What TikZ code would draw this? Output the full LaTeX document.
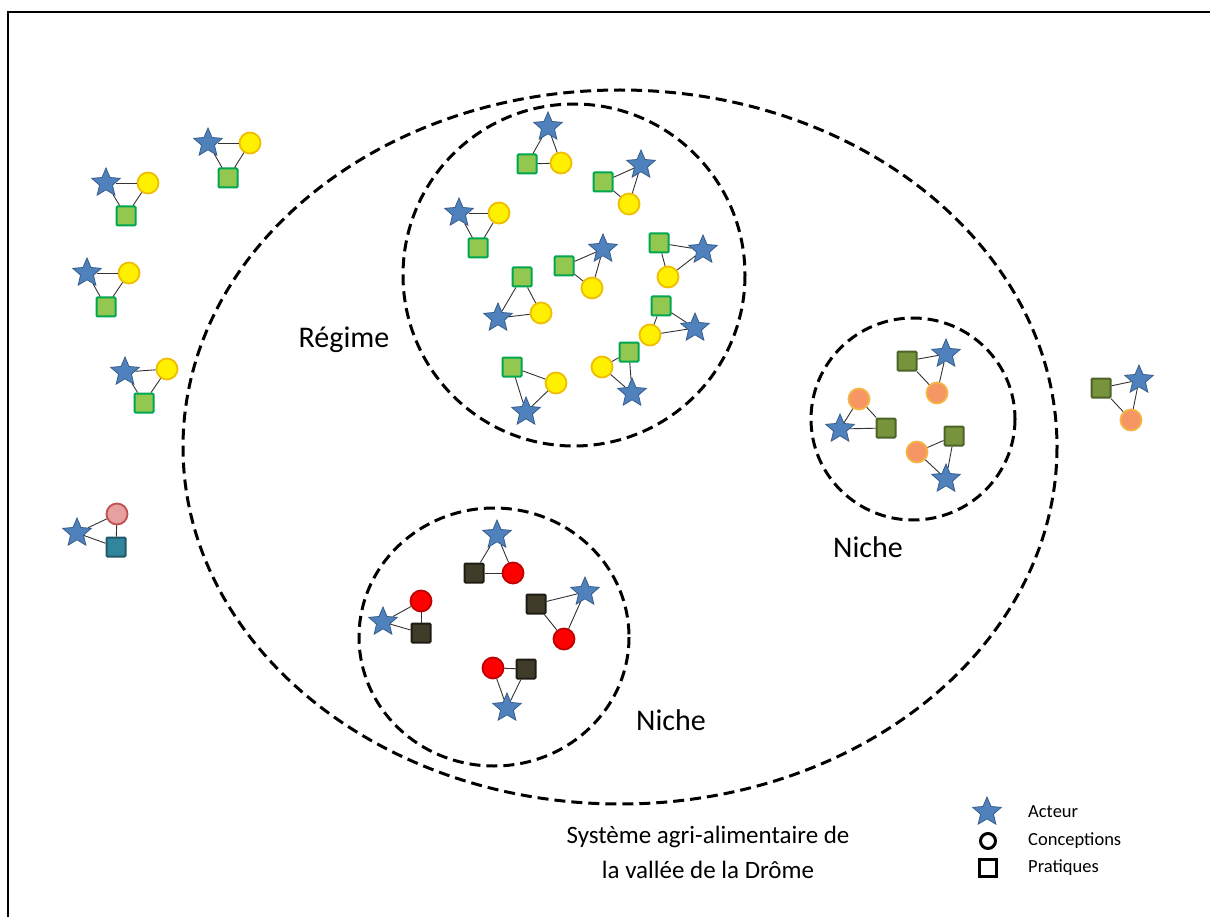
\documentclass[tikz,border=0pt]{standalone}
\usepackage{fontspec}
\setmainfont{Carlito}
\usetikzlibrary{shapes.geometric}
\definecolor{starfill}{RGB}{79,129,189}
\definecolor{stardraw}{RGB}{56,93,138}
\definecolor{yelfill}{RGB}{255,240,0}
\definecolor{yeldraw}{RGB}{240,190,0}
\definecolor{grnfill}{RGB}{146,200,80}
\definecolor{grndraw}{RGB}{0,166,80}
\definecolor{redfill}{RGB}{255,0,0}
\definecolor{reddraw}{RGB}{192,0,0}
\definecolor{brnfill}{RGB}{64,60,42}
\definecolor{brndraw}{RGB}{30,28,20}
\definecolor{olvfill}{RGB}{119,147,60}
\definecolor{olvdraw}{RGB}{79,98,40}
\definecolor{orgfill}{RGB}{245,150,100}
\definecolor{orgdraw}{RGB}{245,180,70}
\definecolor{pnkfill}{RGB}{230,160,160}
\definecolor{pnkdraw}{RGB}{192,80,77}
\definecolor{tealfill}{RGB}{49,133,156}
\definecolor{tealdraw}{RGB}{33,89,104}
\tikzset{
  actor/.style={star, star points=5, star point ratio=2.2, minimum size=30pt, inner sep=0pt, fill=starfill, draw=stardraw, line width=0.8pt},
  conc/.style={circle, minimum size=21pt, inner sep=0pt, line width=1.8pt},
  prat/.style={rectangle, minimum size=19pt, inner sep=0pt, line width=2pt, rounded corners=1pt},
  yc/.style={conc, fill=yelfill, draw=yeldraw},
  gq/.style={prat, fill=grnfill, draw=grndraw},
  rc/.style={conc, fill=redfill, draw=reddraw},
  bq/.style={prat, fill=brnfill, draw=brndraw},
  oc/.style={conc, fill=orgfill, draw=orgdraw},
  oq/.style={prat, fill=olvfill, draw=olvdraw},
  pc/.style={conc, fill=pnkfill, draw=pnkdraw},
  tq/.style={prat, fill=tealfill, draw=tealdraw},
  link/.style={draw=black!80, line width=0.9pt},
  zone/.style={draw=black, line width=3pt, dash pattern=on 11pt off 6pt},
  lbl/.style={font=\fontsize{30}{36}\selectfont, inner sep=0pt},
  sys/.style={font=\fontsize{25}{35}\selectfont, inner sep=0pt, align=center},
  leg/.style={font=\fontsize{18.5}{22}\selectfont, inner sep=0pt, anchor=west}
}
\newcommand{\triad}[6]{%
  \node[actor] (#1s) at (#2) {};
  \node[#5] (#1c) at (#3) {};
  \node[#6] (#1q) at (#4) {};
  \draw[link] (#1s) -- (#1c);
  \draw[link] (#1s) -- (#1q);
  \draw[link] (#1c) -- (#1q);
}
\begin{document}
\begin{tikzpicture}[x=1pt,y=-1pt]
\useasboundingbox (0,0) rectangle (1210,917);
\fill[white] (0,0) rectangle (1210,917);
% frame
\draw[line width=2.2pt] (8,917) -- (8,12) -- (1210,12);
% zones
\draw[zone] (620,447) ellipse [x radius=437, y radius=357];
\draw[zone] (574,275) ellipse [x radius=171, y radius=171];
\draw[zone] (913,419) ellipse [x radius=102, y radius=101];
\draw[zone] (494,637) ellipse [x radius=135, y radius=129];
% outside triads
\triad{a}{208,143}{250,143}{228,178}{yc}{gq}
\triad{b}{106,183}{148,183}{126,216}{yc}{gq}
\triad{c}{87,273}{129,273}{106,307}{yc}{gq}
\triad{d}{125,372}{167,369}{144,403}{yc}{gq}
\triad{t}{77,533}{117,514}{116,547}{pc}{tq}
\triad{o}{1139,380}{1131,420}{1101,388}{oc}{oq}
% regime
\triad{ra}{548,127}{561,163}{527,164}{yc}{gq}
\triad{rb}{641,165}{629,204}{603,182}{yc}{gq}
\triad{rc}{459,213}{499,213}{478,248}{yc}{gq}
\triad{rd}{703,250}{668,277}{659,243}{yc}{gq}
\triad{re}{603,249}{592,288}{564,266}{yc}{gq}
\triad{rf}{498,318}{541,313}{522,277}{yc}{gq}
\triad{rg}{695,328}{650,335}{661,306}{yc}{gq}
\triad{rh}{632,393}{602,367}{629,352}{yc}{gq}
\triad{ri}{526,412}{556,383}{512,367}{yc}{gq}
% right niche
\triad{na}{946,354}{937,393}{907,361}{oc}{oq}
\triad{nb}{840,429}{859,399}{886,428}{oc}{oq}
\triad{nc}{946,479}{917,452}{954,436}{oc}{oq}
% bottom niche
\triad{ba}{497,535}{513,573}{474,573}{rc}{bq}
\triad{bb}{383,622}{421,601}{421,633}{rc}{bq}
\triad{bc}{585,592}{564,639}{536,604}{rc}{bq}
\triad{bd}{507,708}{493,668}{526,669}{rc}{bq}
% labels
\node[lbl] (regime) at (344,340) {Régime};
\node[lbl] (niche1) at (868,547) {Niche};
\node[lbl] (niche2) at (671,720) {Niche};
\node[sys] (sys) at (708,852) {Système agri-alimentaire de\\la vallée de la Drôme};
% legend
\node[actor] (legs) at (987,812) {};
\node[circle, draw=black, line width=3pt, minimum size=15pt, inner sep=0pt] (legc) at (988,841) {};
\node[rectangle, draw=black, line width=3pt, minimum size=17pt, inner sep=0pt] (legq) at (988,868) {};
\node[leg] (legst) at (1028,812) {Acteur};
\node[leg] (legct) at (1028,841) {Conceptions};
\node[leg] (legqt) at (1028,868) {Pratiques};
\end{tikzpicture}
\end{document}
